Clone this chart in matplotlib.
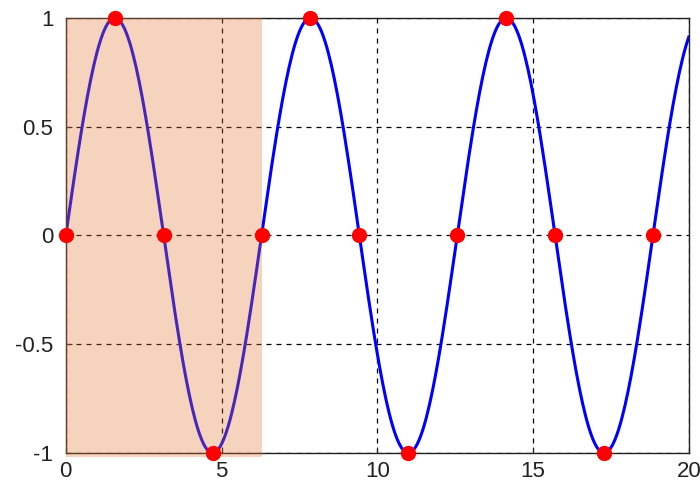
import numpy as np
import matplotlib
matplotlib.use('Agg')
import matplotlib.pyplot as plt

plt.rcParams['font.family'] = ['Liberation Sans', 'DejaVu Sans']

# the curve: y = sin(x) on [0, 20]
x_curve = np.linspace(0, 20, 400)
y_curve = np.sin(x_curve)

# marked points: multiples of pi/2 up to 6*pi
marker_x = [0, 1.5708, 3.1416, 4.7124, 6.2832, 7.854, 9.4248, 10.9956,
            12.5664, 14.1372, 15.708, 17.2788, 18.8496]
marker_y = [0, 1, 0, -1, 0, 1, 0, -1, 0, 1, 0, -1, 0]

# shaded span (one period)
span_x = [0, 6.2832]

xticks = [0, 5, 10, 15, 20]
yticks = [-1, -0.5, 0, 0.5, 1]
ytick_labels = ['-1', '-0.5', '0', '0.5', '1']

fig = plt.figure(figsize=(7, 4.87), dpi=100)
ax = fig.add_axes([0.094, 0.070, 0.890, 0.893])

ax.plot(x_curve, y_curve, color='#0000ff', lw=2.2, zorder=2)
ax.axvspan(span_x[0], span_x[1], ymin=-0.01, ymax=1.0, color='#e07830',
           alpha=0.32, lw=0, zorder=3, clip_on=False)
ax.plot(marker_x, marker_y, 'o', color='#ff0000', ms=10, mec='#ff0000',
        zorder=4, clip_on=False)

ax.set_xlim(0, 20)
ax.set_ylim(-1, 1)
ax.set_xticks(xticks)
ax.set_yticks(yticks)
ax.set_yticklabels(ytick_labels)
ax.grid(True, color='black', linestyle=(0, (4, 4)), lw=0.9)
ax.set_axisbelow(True)
ax.tick_params(direction='in', length=4, labelsize=16, colors='#222222')
ax.tick_params(axis='y', pad=9)
ax.tick_params(axis='x', pad=6)
for s in ax.spines.values():
    s.set_color('#222222')
    s.set_linewidth(1.0)

fig.savefig('out.png', dpi=100)
